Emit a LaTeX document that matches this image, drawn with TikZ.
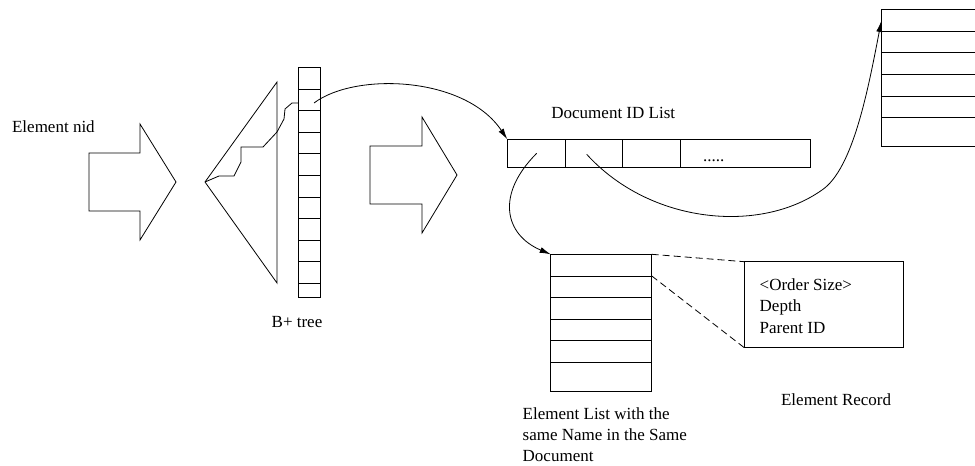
\documentclass[tikz,border=0pt]{standalone}
\usepackage{fontspec}
\setmainfont{Liberation Serif}
\usetikzlibrary{arrows.meta,positioning}
\tikzset{
  lbl/.style={font=\fontsize{17}{21.2}\selectfont, inner sep=0pt},
}

\begin{document}
\begin{tikzpicture}[x=1pt, y=-1pt, line width=0.8pt,
  box/.style={draw, line width=0.8pt, inner sep=0pt, outer sep=0pt, anchor=north west},
  link/.style={line width=0.8pt, -{Latex[length=11pt, width=6pt]}},
  dashlink/.style={line width=0.8pt, dash pattern=on 7pt off 4pt},
  lbl]
  \useasboundingbox (0,0) rectangle (975,466);
  \node[anchor=base west] (nid) at (11.7,132.3) {Element nid};
  \draw (89,153) -- (140,153) -- (140,124) -- (176,182) -- (140,240) -- (140,211) -- (89,211) -- cycle;
  \draw (277,82) -- (205,182) -- (277,283) -- cycle;
  \draw (205,182) -- (219,176) -- (234,176) -- (241,162) -- (241,147) -- (263,147)
        -- (277,132) -- (284,119) -- (285,109) -- (292,103) -- (298.3,103);
  \node[box, minimum width=21.7pt, minimum height=230pt] (btree) at (298.3,67.3) {};
  \foreach \k in {1,...,10}
    \draw (298.3,{67.3+21.6*\k}) -- (320,{67.3+21.6*\k});
  \node[anchor=base] (btreelbl) at (297,327) {B+ tree};
  \draw (370,146) -- (422,146) -- (422,117) -- (457,175) -- (422,233) -- (422,204) -- (370,204) -- cycle;
  \node[anchor=base west] (doclbl) at (551,118.3) {Document ID List};
  \node[box, minimum width=303.4pt, minimum height=28.4pt] (doclist) at (507.3,139.3) {};
  \foreach \x in {565,622.7,680.7}
    \draw (\x,139.3) -- (\x,167.7);
  \node[anchor=base west] (dots) at (702.7,161) {.....};
  \node[box, minimum width=101pt, minimum height=136.7pt] (elist) at (550.7,254.3) {};
  \foreach \k in {1,...,5}
    \draw (550.7,{254.3+21.6*\k}) -- (651.7,{254.3+21.6*\k});
  \node[anchor=north west, align=left] (elistlbl) at (522.3,407)
    {Element List with the\\same Name in the Same\\Document};
  \node[box, minimum width=159pt, minimum height=86pt] (record) at (744.3,261.7) {};
  \node[anchor=base west] (f1) at (759.3,290) {<Order Size>};
  \node[anchor=base west] (f2) at (759.3,311.7) {Depth};
  \node[anchor=base west] (f3) at (759.3,333.4) {Parent ID};
  \node[anchor=base west] (reclbl) at (780.7,405.7) {Element Record};
  \coordinate (rcol) at (881.7,9.3);
  \draw (975,9.3) -- (rcol) -- (881.7,146) -- (975,146);
  \foreach \k in {1,...,5}
    \draw (881.7,{9.3+21.7*\k}) -- (975,{9.3+21.7*\k});
  \coordinate (rtop) at (881.3,21);
  \coordinate (bt) at (314,103);
  \coordinate (d1) at (536.7,153.3);
  \coordinate (d2) at (586.7,154.3);
  \coordinate (bend) at (822,190);
  \coordinate (erow) at (651.7,275.9);
  \draw[link] (bt) .. controls (355,72) and (465,76) .. (doclist.north west);
  \draw[link] (d1) .. controls (495,195) and (505,235) .. (elist.north west);
  \draw[link] (d2) .. controls (650,224) and (760,234) .. (bend)
                   .. controls (853,169) and (868,90) .. (rtop);
  \draw[dashlink] (elist.north east) -- (record.north west);
  \draw[dashlink] (erow) -- (record.south west);
\end{tikzpicture}
\end{document}
